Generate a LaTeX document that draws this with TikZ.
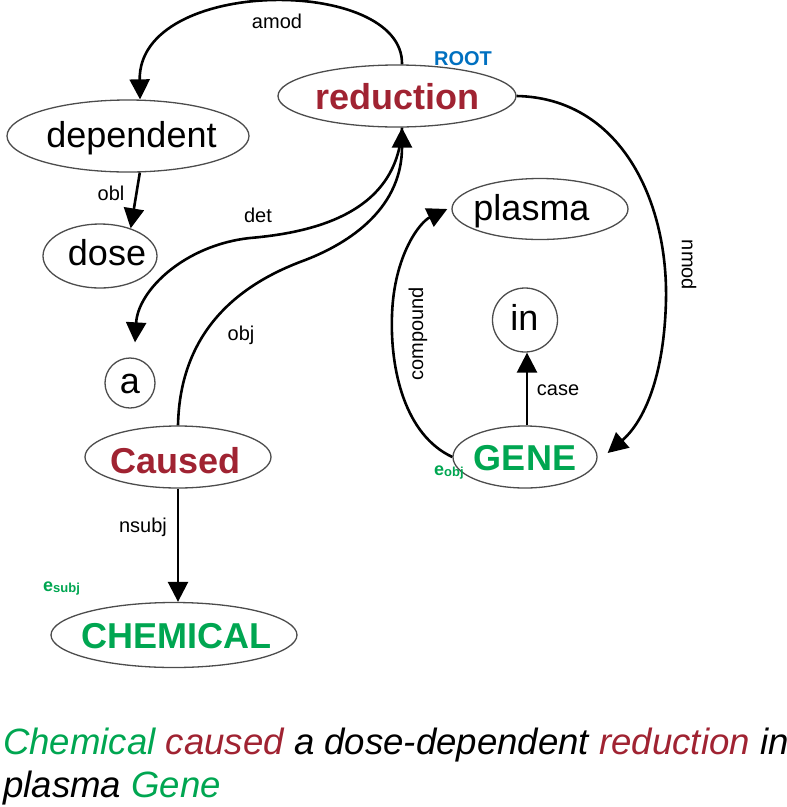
\documentclass[tikz,border=0pt]{standalone}
\usepackage{fontspec}
\setmainfont{Liberation Sans}
\usetikzlibrary{shapes.geometric,arrows.meta}
\definecolor{wred}{RGB}{160,35,50}
\definecolor{wgreen}{RGB}{0,166,81}
\definecolor{wblue}{RGB}{0,112,192}
\begin{document}
\begin{tikzpicture}[x=1pt,y=-1pt,
 wshape/.style={ellipse, draw=black!70, line width=1.3pt, inner sep=0pt},
 wtext/.style={font=\fontsize{36}{40}\selectfont, inner sep=0pt, anchor=base},
 lbl/.style={font=\fontsize{20}{22}\selectfont, inner sep=0pt, anchor=base},
 rlbl/.style={font=\fontsize{20}{22}\selectfont, inner sep=0pt},
 dep/.style={line width=2.6pt, -{Triangle[length=20pt,width=20pt]}},
]
\useasboundingbox (0,0) rectangle (787,807);
% word shapes
\node[wshape, minimum width=238pt, minimum height=62pt] (reduction) at (397,96) {};
\node[wshape, minimum width=242pt, minimum height=72pt] (dependent) at (128,136) {};
\node[wshape, minimum width=114pt, minimum height=64pt] (dose) at (100,256) {};
\node[wshape, minimum width=50pt, minimum height=50pt] (a) at (130,383) {};
\node[wshape, minimum width=186pt, minimum height=62pt] (caused) at (178,457) {};
\node[wshape, minimum width=246pt, minimum height=65pt] (chem) at (174,635) {};
\node[wshape, minimum width=176pt, minimum height=61pt] (plasma) at (540,209) {};
\node[wshape, minimum width=65pt, minimum height=64pt] (in) at (525,320) {};
\node[wshape, minimum width=144pt, minimum height=62pt] (gene) at (525,457) {};
% word texts
\node[wtext, text=wred] (treduction) at (397.5,109) {\bfseries reduction};
\node[wtext] (tdependent) at (131.5,147) {dependent};
\node[wtext] (tdose) at (107,265) {dose};
\node[wtext] (ta) at (130,393) {a};
\node[wtext, text=wred] (tcaused) at (175.5,473) {\bfseries Caused};
\node[wtext, text=wgreen] (tchem) at (176.5,648) {\bfseries CHEMICAL};
\node[wtext] (tplasma) at (531.5,220) {plasma};
\node[wtext] (tin) at (524.5,330) {in};
\node[wtext, text=wgreen] (tgene) at (525,470) {\bfseries GENE};
% extra marks
\node[lbl, text=wblue] (root) at (463,65) {\bfseries ROOT};
\node[anchor=base west, inner sep=0pt, text=wgreen] (esubj) at (43,591) {\fontsize{18}{18}\selectfont\bfseries e\raisebox{-1.5pt}{\fontsize{13}{13}\selectfont subj}};
\node[anchor=base west, inner sep=0pt, text=wgreen] (eobj) at (434,475) {\fontsize{18}{18}\selectfont\bfseries e\raisebox{-1.5pt}{\fontsize{13}{13}\selectfont obj}};
% edges
\draw[dep] ([xshift=5pt]reduction.north) .. controls (404,-24) and (138,-24) .. ([xshift=12pt]dependent.north);
\draw[dep] (dependent.-72) -- (dose.42);
\draw[dep] ([xshift=5pt]reduction.south) .. controls (398,210) and (320,232) .. (250,238) .. controls (185,245) and (138,290) .. ([xshift=5pt,yshift=15pt]a.north);
\draw[dep] (caused.north) .. controls (180,330) and (240,285) .. (300,262) .. controls (355,242) and (402,205) .. ([xshift=5pt]reduction.south);
\draw[dep] (reduction.east) .. controls (620,98) and (668,200) .. (666,300) .. controls (664,385) and (640,425) .. ([xshift=10pt,yshift=4pt]gene.east);
\draw[dep] (gene.west) .. controls (405,435) and (390,370) .. (392,315) .. controls (394,255) and (420,222) .. ([xshift=-4pt]plasma.west);
\draw[dep] ([xshift=2pt]gene.north) -- ([xshift=2pt]in.south);
\draw[dep] (caused.south) -- ([xshift=4pt]chem.north);
% edge labels
\node[lbl] (lamod) at (277,28) {amod};
\node[lbl] (lobl) at (111,200) {obl};
\node[lbl] (ldet) at (258,222) {det};
\node[lbl] (lobj) at (241,340) {obj};
\node[lbl] (lnsubj) at (143,532) {nsubj};
\node[lbl] (lcase) at (558,395) {case};
\node[rlbl, rotate=90] (lcompound) at (418,334) {compound};
\node[rlbl, rotate=-90] (lnmod) at (689,265) {nmod};
% sentence
\node[anchor=base west, inner sep=0pt, font=\fontsize{36.6}{40}\selectfont\itshape] (s1) at (3,754) {\textcolor{wgreen}{Chemical} \textcolor{wred}{caused} a dose-dependent \textcolor{wred}{reduction} in};
\node[anchor=base west, inner sep=0pt, font=\fontsize{36.6}{40}\selectfont\itshape] (s2) at (3,797) {plasma \textcolor{wgreen}{Gene}};
\end{tikzpicture}
\end{document}
